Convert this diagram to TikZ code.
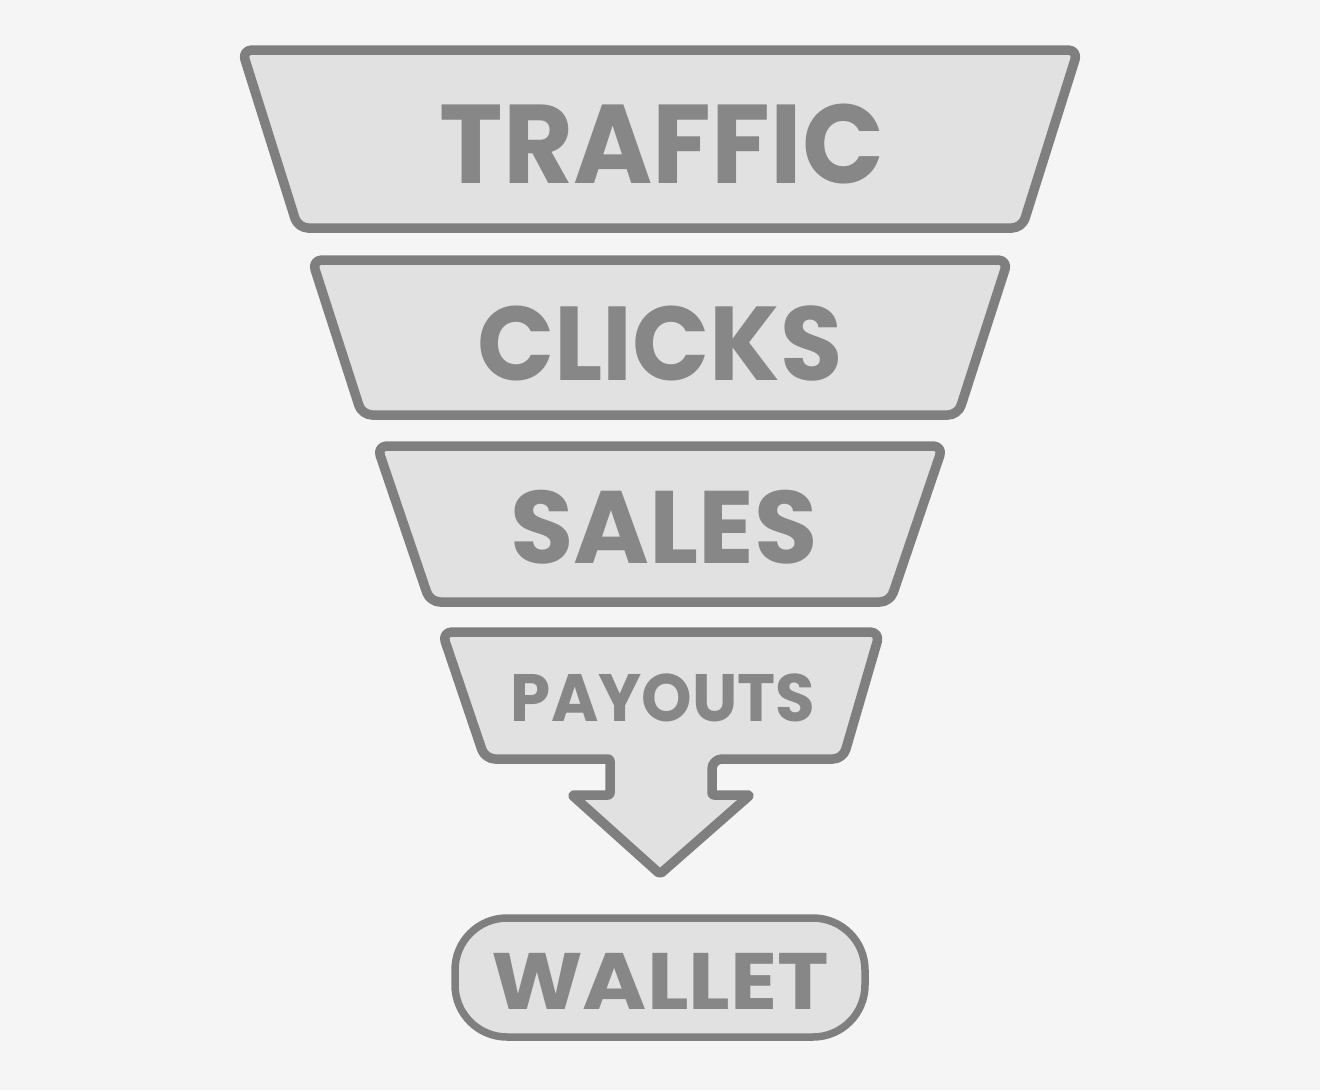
\documentclass[tikz,border=0pt]{standalone}
\usepackage{fontspec}
\setmainfont{Poppins}
\definecolor{bg}{HTML}{F5F5F5}
\definecolor{fillg}{HTML}{E1E1E1}
\definecolor{strokeg}{HTML}{7F7F7F}
\definecolor{textg}{HTML}{878787}
\tikzset{
  stage/.style={draw=strokeg, fill=fillg, line width=9.5pt, rounded corners=10pt, line join=round},
  label/.style={text=textg, inner sep=0pt, anchor=center},
}
\begin{document}
\begin{tikzpicture}[x=1pt,y=-1pt]
\fill[bg] (0,0) rectangle (1320,1090);
\useasboundingbox (0,0) rectangle (1320,1090);
% stage shapes
\draw[stage] (242,50) -- (1078,50) -- (1022,228) -- (298,228) -- cycle;
\draw[stage] (312,260) -- (1008,260) -- (958,415) -- (362,415) -- cycle;
\draw[stage] (377,446) -- (943,446) -- (890,602) -- (430,602) -- cycle;
\draw[stage] (442,632) -- (880,632) -- (843,759) -- (712,759)
  {[rounded corners=2pt] -- (712,795) -- (750,795) -- (660,874) -- (572,795) -- (610,795) -- (610,759)} -- (485,759) -- cycle;
\node[draw=strokeg, fill=fillg, line width=7.5pt, rounded corners=52pt, minimum width=410pt, minimum height=119pt] (wallet) at (660,977.5) {};
% labels
\node[label, xscale=0.96, font=\bfseries\fontsize{112}{112}\selectfont] (traffic) at (662,144) {TRAFFIC};
\node[label, xscale=0.965, font=\bfseries\fontsize{105}{105}\selectfont] (clicks) at (660,343) {CLICKS};
\node[label, font=\bfseries\fontsize{103}{103}\selectfont] (sales) at (664,527.5) {SALES};
\node[label, xscale=0.96, font=\bfseries\fontsize{67}{67}\selectfont] (payouts) at (663,697.5) {PAYOUTS};
\node[label, xscale=1.09, font=\bfseries\fontsize{80}{80}\selectfont] (walletlabel) at (660,981.5) {WALLET};
\end{tikzpicture}
\end{document}
